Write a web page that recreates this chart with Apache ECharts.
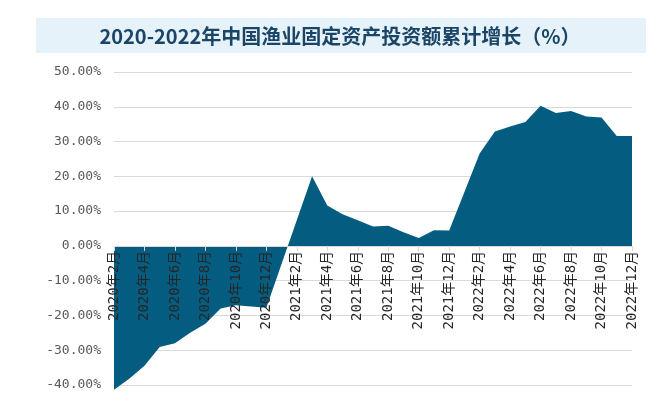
<!DOCTYPE html>
<html>
<head>
<meta charset="utf-8">
<script src="https://cdn.jsdelivr.net/npm/echarts@6/dist/echarts.min.js"></script>
<style>
  html, body { margin: 0; padding: 0; background: #ffffff; }
  #chart { width: 651px; height: 397px; }
</style>
</head>
<body>
<div id="chart"></div>
<script>
const title = "2020-2022年中国渔业固定资产投资额累计增长（%）";

const months = [
  "2020年2月", "2020年3月", "2020年4月", "2020年5月", "2020年6月", "2020年7月",
  "2020年8月", "2020年9月", "2020年10月", "2020年11月", "2020年12月",
  "2021年1月", "2021年2月", "2021年3月", "2021年4月", "2021年5月", "2021年6月",
  "2021年7月", "2021年8月", "2021年9月", "2021年10月", "2021年11月", "2021年12月",
  "2022年1月", "2022年2月", "2022年3月", "2022年4月", "2022年5月", "2022年6月",
  "2022年7月", "2022年8月", "2022年9月", "2022年10月", "2022年11月", "2022年12月",
];

// cumulative growth, % (no January figures, gaps are bridged)
const growth = [
  -41.4, -38.2, -34.5, -29.1, -28.0, -25.0, -22.4, -18.0, -17.1, -17.4, -17.8,
  null, null, 20.0, 11.6, 9.1, 7.4, 5.6, 5.8, 3.9, 2.3, 4.5, 4.4,
  null, 26.6, 32.9, 34.3, 35.6, 40.3, 38.2, 38.8, 37.2, 36.9, 31.6, 31.6,
];

const yMin = -40;
const yMax = 50;
const yStep = 10;

const colors = {
  area: "#045d80",
  grid: "#d9d9d9",
  text: "#595959",
  label: "#262626",
  title: "#1b4566",
  titleBg: "#e6f2fa",
};

const gridTop = 72;
const gridBottom = 12;
const plotH = 397 - gridTop - gridBottom;
// move the category axis up to the 0% line
const zeroOffset = -plotH * (0 - yMin) / (yMax - yMin);

const chart = echarts.init(document.getElementById("chart"), null, { renderer: "canvas" });

chart.setOption({
  animation: false,
  backgroundColor: "#ffffff",
  graphic: [
    {
      type: "rect",
      left: 36,
      top: 18,
      shape: { width: 610, height: 35 },
      style: { fill: colors.titleBg },
      z: 0,
    },
    {
      type: "text",
      x: 340,
      y: 36,
      style: {
        text: title,
        fill: colors.title,
        align: "center",
        verticalAlign: "middle",
        font: "bold 20px 'Noto Sans CJK SC', sans-serif",
      },
      z: 1,
    },
  ],
  grid: {
    left: 114,
    right: 19,
    top: gridTop,
    bottom: gridBottom,
    containLabel: false,
    outerBoundsMode: "none",
  },
  xAxis: {
    type: "category",
    data: months,
    boundaryGap: false,
    position: "bottom",
    offset: zeroOffset,
    z: 5,
    axisLine: {
      onZero: false,
      lineStyle: { color: colors.grid, width: 1 },
    },
    axisTick: {
      show: true,
      interval: 1,
      length: 5,
      lineStyle: { color: colors.grid },
    },
    axisLabel: {
      interval: 1,
      rotate: 90,
      margin: 5,
      color: colors.label,
      fontSize: 14,
      fontFamily: "'DejaVu Sans Mono', 'Noto Sans CJK SC', monospace",
    },
    splitLine: { show: false },
  },
  yAxis: {
    type: "value",
    min: yMin,
    max: yMax,
    interval: yStep,
    axisLine: { show: false },
    axisTick: { show: false },
    axisLabel: {
      margin: 13,
      color: colors.text,
      fontSize: 13,
      fontFamily: "'DejaVu Sans Mono', monospace",
      formatter: (v) => v.toFixed(2) + "%",
    },
    splitLine: {
      lineStyle: { color: colors.grid, width: 1 },
    },
  },
  series: [
    {
      type: "line",
      data: growth,
      connectNulls: true,
      clip: false,
      symbol: "none",
      lineStyle: { width: 0 },
      areaStyle: { color: colors.area, opacity: 1 },
      z: 2,
    },
  ],
});
</script>
</body>
</html>
